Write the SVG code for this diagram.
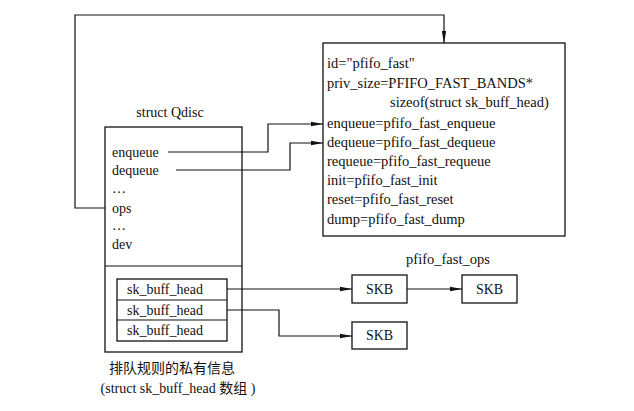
<svg xmlns="http://www.w3.org/2000/svg" width="634" height="411" viewBox="0 0 634 411">
<style>
text{font-family:"Liberation Serif","Noto Sans CJK SC",serif;font-size:14px;fill:#111}
#ops text{font-size:14.5px}
.c{text-anchor:middle}
.b{fill:#fff;stroke:#111;stroke-width:1.3}
.l{fill:none;stroke:#111;stroke-width:1.2}
</style>
<defs>
<marker id="a" markerWidth="12" markerHeight="6" refX="12" refY="3" orient="auto" markerUnits="userSpaceOnUse">
<path d="M0,0.8 L12,3 L0,5.2 Z" fill="#111"/>
</marker>
</defs>
<rect width="634" height="411" fill="#fff"/>
<g id="qdisc">
<text class="c" x="170" y="117">struct Qdisc</text>
<rect class="b" x="105" y="127" width="137" height="225"/>
<line class="l" x1="105" y1="266" x2="242" y2="266"/>
<text x="112" y="157">enqueue</text>
<text x="112" y="175">dequeue</text>
<text x="112" y="193">…</text>
<text x="112" y="213">ops</text>
<text x="112" y="230">…</text>
<text x="112" y="249">dev</text>
</g>
<g id="skbheads">
<rect class="b" x="117" y="279" width="110" height="62"/>
<line class="l" x1="117" y1="300" x2="227" y2="300"/>
<line class="l" x1="117" y1="320" x2="227" y2="320"/>
<text x="127" y="294">sk_buff_head</text>
<text x="127" y="315">sk_buff_head</text>
<text x="127" y="335">sk_buff_head</text>
<text class="c" x="172" y="373">排队规则的私有信息</text>
<text class="c" x="178" y="393">(struct sk_buff_head 数组 )</text>
</g>
<g id="ops">
<rect class="b" x="323" y="43" width="242" height="193"/>
<text x="327" y="68">id="pfifo_fast"</text>
<text x="327" y="88">priv_size=PFIFO_FAST_BANDS*</text>
<text x="390" y="107">sizeof(struct sk_buff_head)</text>
<text x="327" y="128">enqueue=pfifo_fast_enqueue</text>
<text x="327" y="147">dequeue=pfifo_fast_dequeue</text>
<text x="327" y="166">requeue=pfifo_fast_requeue</text>
<text x="327" y="185">init=pfifo_fast_init</text>
<text x="327" y="204">reset=pfifo_fast_reset</text>
<text x="327" y="224">dump=pfifo_fast_dump</text>
<text class="c" x="448" y="264">pfifo_fast_ops</text>
</g>
<g id="skb1"><rect class="b" x="352" y="275" width="55" height="28"/><text class="c" x="379.5" y="294">SKB</text></g>
<g id="skb2"><rect class="b" x="462" y="275" width="55" height="28"/><text class="c" x="489.5" y="294">SKB</text></g>
<g id="skb3"><rect class="b" x="352" y="322" width="55" height="27"/><text class="c" x="379.5" y="340">SKB</text></g>
<g id="connectors">
<path class="l" d="M105,208 H75 V15 H444 V43" marker-end="url(#a)"/>
<path class="l" d="M168,152 H268 V124 H323" marker-end="url(#a)"/>
<path class="l" d="M176,170 H290 V143 H323" marker-end="url(#a)"/>
<path class="l" d="M227,289 H352" marker-end="url(#a)"/>
<path class="l" d="M407,289 H462" marker-end="url(#a)"/>
<path class="l" d="M227,310 H279 V336 H352" marker-end="url(#a)"/>
</g>
</svg>
